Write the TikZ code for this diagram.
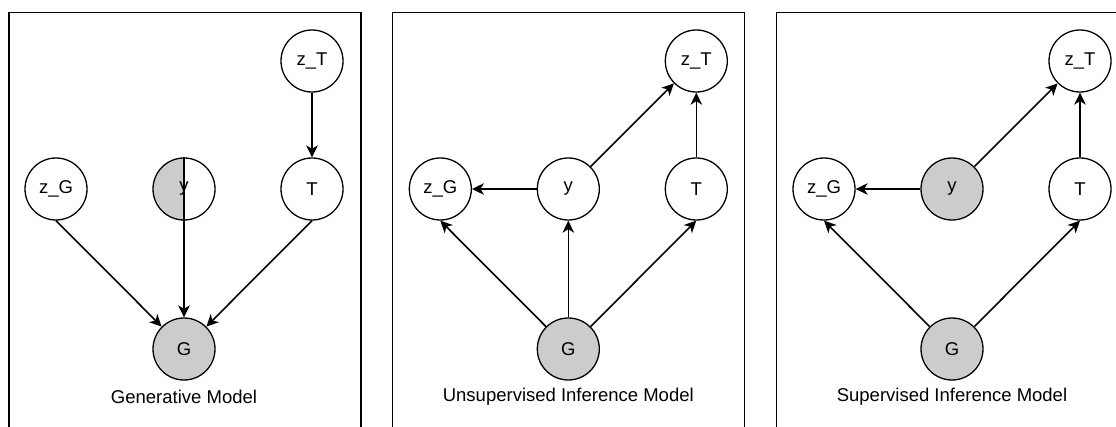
\documentclass[tikz,border=0pt]{standalone}
\usepackage{fontspec}
\setmainfont{Liberation Sans}
\usetikzlibrary{arrows.meta}

\definecolor{obsgray}{HTML}{CCCCCC}

\tikzset{
  var/.style={circle, draw, line width=1.3pt, minimum size=62pt, inner sep=0pt, fill=white},
  obs/.style={var, fill=obsgray},
  half/.style={var, path picture={\fill[obsgray] (path picture bounding box.south west) rectangle (path picture bounding box.north);}},
  panel/.style={-, line width=1.3pt}
}

\begin{document}
\begin{tikzpicture}[x=1pt, y=1pt, ->, >={Stealth[length=12pt, width=11.5pt, inset=3.5pt]}, line width=1.6pt, node distance=128pt, font=\fontsize{18.5}{22}\selectfont]
  \useasboundingbox (0,0) rectangle (1116,426);

  % frames
  \begin{scope}
    \clip (0,0) rectangle (1116,426);
    \draw[panel] (9,-10) rectangle (361,413.3);
    \draw[panel] (392.7,-10) rectangle (744.7,413.3);
    \draw[panel] (776.3,-10) rectangle (1128.3,413.3);
  \end{scope}

  % generative model
  \node[var]  (zG1) at (56,237) {z\_G};
  \node[half] (y1)  [right of=zG1] {y};
  \node[var]  (T1)  [right of=y1]  {T};
  \node[var]  (zT1) [above of=T1]  {z\_T};
  \node[obs]  (G1)  [below of=y1, node distance=160pt] {G};
  \node       (cap1) [below of=G1, node distance=48pt] {Generative Model};

  \path (zG1.south) edge (G1)
        (y1.north)  edge (G1)
        (T1.south)  edge (G1)
        (zT1)       edge (T1);

  % unsupervised inference model
  \node[var]  (zG2) at (440.3,237) {z\_G};
  \node[var]  (y2)  [right of=zG2] {y};
  \node[var]  (T2)  [right of=y2]  {T};
  \node[var]  (zT2) [above of=T2]  {z\_T};
  \node[obs]  (G2)  [below of=y2, node distance=160pt] {G};
  \node       (cap2) [below of=G2, node distance=48pt] {Unsupervised Inference Model};

  \path (y2) edge (zG2)
             edge (zT2)
        (T2) edge (zT2)
        (G2) edge (zG2.south)
             edge (y2)
             edge (T2.south);

  % supervised inference model
  \node[var]  (zG3) at (824,237) {z\_G};
  \node[obs]  (y3)  [right of=zG3] {y};
  \node[var]  (T3)  [right of=y3]  {T};
  \node[var]  (zT3) [above of=T3]  {z\_T};
  \node[obs]  (G3)  [below of=y3, node distance=160pt] {G};
  \node       (cap3) [below of=G3, node distance=48pt] {Supervised Inference Model};

  \path (y3) edge (zG3)
             edge (zT3)
        (T3) edge (zT3)
        (G3) edge (zG3.south)
             edge (T3.south);
\end{tikzpicture}
\end{document}
